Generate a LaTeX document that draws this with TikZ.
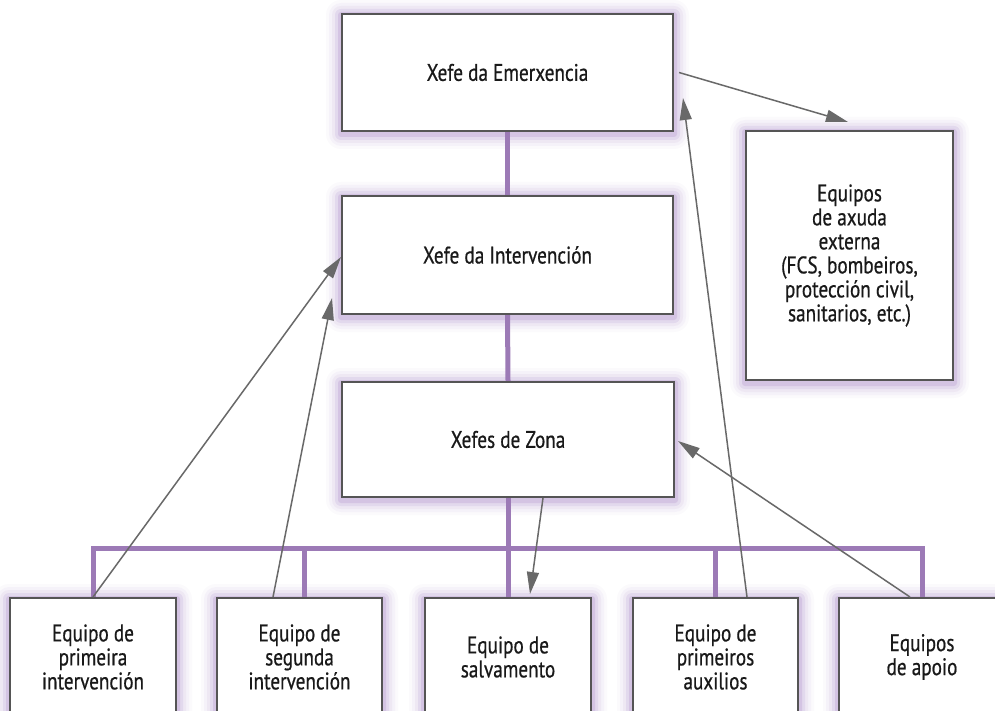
\documentclass[tikz,border=0pt]{standalone}
\usepackage{fontspec}
\setmainfont{PT Sans}[FakeStretch=0.8,FakeBold=0.6]
\usetikzlibrary{arrows.meta,backgrounds,calc}
\definecolor{boxgray}{RGB}{85,85,85}
\definecolor{arrgray}{RGB}{105,105,105}
\definecolor{lila}{RGB}{156,122,182}
\definecolor{glowc}{RGB}{150,110,190}
\tikzset{
  box/.style={draw=boxgray, line width=1pt, fill=white, align=center, inner sep=0pt,
    text=black!90, font=\fontsize{12pt}{12pt}\selectfont},
  link/.style={draw=lila, line width=2.5pt},
  arr/.style={draw=arrgray, line width=0.75pt, -{Triangle[length=11pt,width=6pt]}, fill=arrgray},
}
\newcommand\glowbox[1]{%
  \foreach \d/\op in {1.5/0.18,3/0.12,4.5/0.08,6/0.05,7.5/0.03}{%
    \fill[glowc, opacity=\op, rounded corners=\d pt]
      ([shift={(-\d pt,-\d pt-1pt)}]#1.south west) rectangle ([shift={(\d pt,\d pt-1pt)}]#1.north east);}}
\begin{document}
\begin{tikzpicture}[x=0.5pt,y=-0.5pt]
\useasboundingbox (0,0) rectangle (995,711);
\clip (0,0) rectangle (995,711);
% boxes
\node[box, minimum width=165.5pt, minimum height=58.5pt] (em) at (507.5,72.5) {Xefe da Emerxencia};
\node[box, minimum width=103.5pt, minimum height=124.5pt] (ext) at (849.5,255.5) {Equipos\\de axuda\\externa\\(FCS, bombeiros,\\protección civil,\\sanitarios, etc.)};
\node[box, minimum width=165.5pt, minimum height=59pt] (int) at (507.5,255) {Xefe da Intervención};
\node[box, minimum width=166pt, minimum height=57.5pt] (zona) at (508,439.5) {Xefes de Zona};
\node[box, minimum width=83pt, minimum height=59pt] (b1) at (93,657) {Equipo de\\primeira\\intervención};
\node[box, minimum width=82.5pt, minimum height=59pt] (b2) at (299.5,657) {Equipo de\\segunda\\intervención};
\node[box, minimum width=83pt, minimum height=59pt] (b3) at (508,657) {Equipo de\\salvamento};
\node[box, minimum width=82.5pt, minimum height=59pt] (b4) at (715.5,657) {Equipo de\\primeiros\\auxilios};
\node[box, minimum width=83pt, minimum height=59pt] (b5) at (922,657) {Equipos\\de apoio};
% glow
\begin{scope}[on background layer]
\fill[white] (0,0) rectangle (995,711);
\foreach \n in {em,ext,int,zona,b1,b2,b3,b4,b5}{\glowbox{\n}}
\end{scope}
% purple hierarchy lines
\coordinate (bus) at (507,548);
\begin{scope}[on background layer]
\draw[link] (em.south) -- (int.north);
\draw[link] (int.south) -- (zona.north);
\draw[link] (zona.south) -- (zona.south |- bus);
\draw[link] (b1.north) -- (b1.north |- bus) -- (b5.north |- bus) -- (b5.north);
\draw[link] ([xshift=2.25pt]b2.north) -- ([xshift=2.25pt]b2.north |- bus);
\draw[link] (b3.north) -- (b3.north |- bus);
\draw[link] (b4.north) -- (b4.north |- bus);
\end{scope}
% free arrow ends
\coordinate (t2) at (332,298);
\coordinate (t4) at (683,98);
% grey arrows
\draw[arr] (b1.north) -- ([yshift=-1pt]int.west);
\draw[arr] ([xshift=-13.25pt]b2.north) -- (t2);
\draw[arr] ([xshift=17.5pt]zona.south) -- ([xshift=11pt,yshift=1.5pt]b3.north);
\draw[arr] ([xshift=15.75pt]b4.north) -- (t4);
\draw[arr] ([xshift=-6pt]b5.north) -- ([xshift=1.5pt,yshift=-0.75pt]zona.east);
\draw[arr] ([xshift=2.5pt]em.east) -- ([xshift=-0.75pt,yshift=4pt]ext.north);
\end{tikzpicture}
\end{document}
